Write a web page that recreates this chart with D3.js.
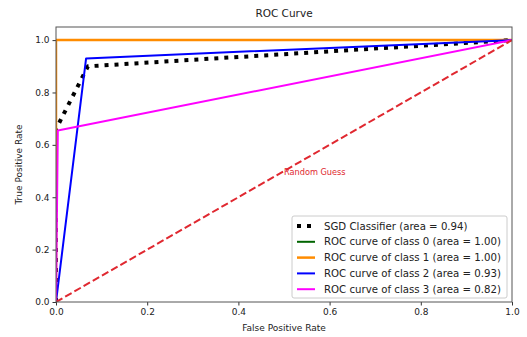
<!DOCTYPE html>
<html><head><meta charset="utf-8">
<script src="https://cdn.jsdelivr.net/npm/d3@7"></script>
<style>body{margin:0;background:#fff}svg{display:block}text{font-family:"DejaVu Sans",sans-serif;fill:#222}</style>
</head><body><svg id="c" width="527" height="337"></svg>
<script>
const sgdFpr = [0, 0, 0.07, 1];
const sgdTpr = [0, 0.66, 0.90, 1];
const c0Fpr = [0, 0, 1];
const c0Tpr = [0, 1, 1];
const c1Fpr = [0, 0, 1];
const c1Tpr = [0, 1, 1];
const c2Fpr = [0, 0.066, 1];
const c2Tpr = [0, 0.93, 1];
const c3Fpr = [0, 0.004, 1];
const c3Tpr = [0, 0.655, 1];
const randFpr = [0, 1];
const randTpr = [0, 1];
const xTicks = [0, 0.2, 0.4, 0.6, 0.8, 1.0];
const yTicks = [0, 0.2, 0.4, 0.6, 0.8, 1.0];
const legendLabels = ["SGD Classifier (area = 0.94)","ROC curve of class 0 (area = 1.00)","ROC curve of class 1 (area = 1.00)","ROC curve of class 2 (area = 0.93)","ROC curve of class 3 (area = 0.82)"];

const svg = d3.select("#c");
const L=56, R=512, T=27, B=302;
const x = d3.scaleLinear().domain([0,1]).range([L,R]);
const y = d3.scaleLinear().domain([0,1.05]).range([B,T]);
const line = d3.line().x(d=>x(d[0])).y(d=>y(d[1]));
const zip=(a,b)=>a.map((v,i)=>[v,b[i]]);

const series = [
 {fpr:sgdFpr,tpr:sgdTpr,color:"#000",w:4,dash:"4,6"},
 {fpr:c0Fpr,tpr:c0Tpr,color:"#006400",w:2},
 {fpr:c1Fpr,tpr:c1Tpr,color:"#ff8c00",w:2.5},
 {fpr:c2Fpr,tpr:c2Tpr,color:"#0000ff",w:2},
 {fpr:c3Fpr,tpr:c3Tpr,color:"#ff00ff",w:2},
];
const g = svg.append("g");
g.append("defs").append("clipPath").attr("id","clip").append("rect").attr("x",L).attr("y",T).attr("width",R-L).attr("height",B-T);
const pg = g.append("g").attr("clip-path","url(#clip)");
series.forEach(s=>{
  pg.append("path").attr("d",line(zip(s.fpr,s.tpr))).attr("fill","none").attr("stroke",s.color)
   .attr("stroke-width",s.w).attr("stroke-dasharray",s.dash||null).attr("stroke-linejoin","round");
});
pg.append("path").attr("d",line(zip(randFpr,randTpr))).attr("fill","none").attr("stroke","#e02830")
  .attr("stroke-width",2).attr("stroke-dasharray","7.4,3.2");
svg.append("text").attr("x",x(0.5)).attr("y",y(0.5)+4).attr("font-size",8.2).style("fill","#e02830").text("Random Guess");

// axes
const xa = svg.append("g").attr("transform",`translate(0,${B})`).call(d3.axisBottom(x).tickValues(xTicks).tickFormat(d3.format(".1f")).tickSize(3.5).tickPadding(3));
const ya = svg.append("g").attr("transform",`translate(${L},0)`).call(d3.axisLeft(y).tickValues(yTicks).tickFormat(d3.format(".1f")).tickSize(3.5).tickPadding(3));
[xa,ya].forEach(a=>{a.select(".domain").remove();a.selectAll("text").attr("font-size",9).style("fill","#222").attr("font-family","DejaVu Sans");a.selectAll("line").attr("stroke","#333");});
svg.append("rect").attr("x",L).attr("y",T).attr("width",R-L).attr("height",B-T).attr("fill","none").attr("stroke","#555").attr("stroke-width",1);

svg.append("text").attr("x",(L+R)/2).attr("y",17).attr("text-anchor","middle").attr("font-size",10.5).text("ROC Curve");
svg.append("text").attr("x",(L+R)/2).attr("y",331).attr("text-anchor","middle").attr("font-size",9).text("False Positive Rate");
svg.append("text").attr("transform",`translate(22,${(T+B)/2}) rotate(-90)`).attr("text-anchor","middle").attr("font-size",9).text("True Positive Rate");

// legend
const lg = svg.append("g");
lg.append("rect").attr("x",292).attr("y",216).attr("width",215).attr("height",82).attr("rx",2)
  .attr("fill","rgba(255,255,255,0.85)").attr("stroke","#ccc");
legendLabels.forEach((t,i)=>{
  const yy = 226 + i*15.8;
  const s = series[i];
  lg.append("line").attr("x1",297).attr("x2",315).attr("y1",yy).attr("y2",yy).attr("stroke",s.color)
    .attr("stroke-width",s.w).attr("stroke-dasharray",s.dash||null);
  lg.append("text").attr("x",324).attr("y",yy+3.6).attr("font-size",10.2).text(t);
});
</script></body></html>
